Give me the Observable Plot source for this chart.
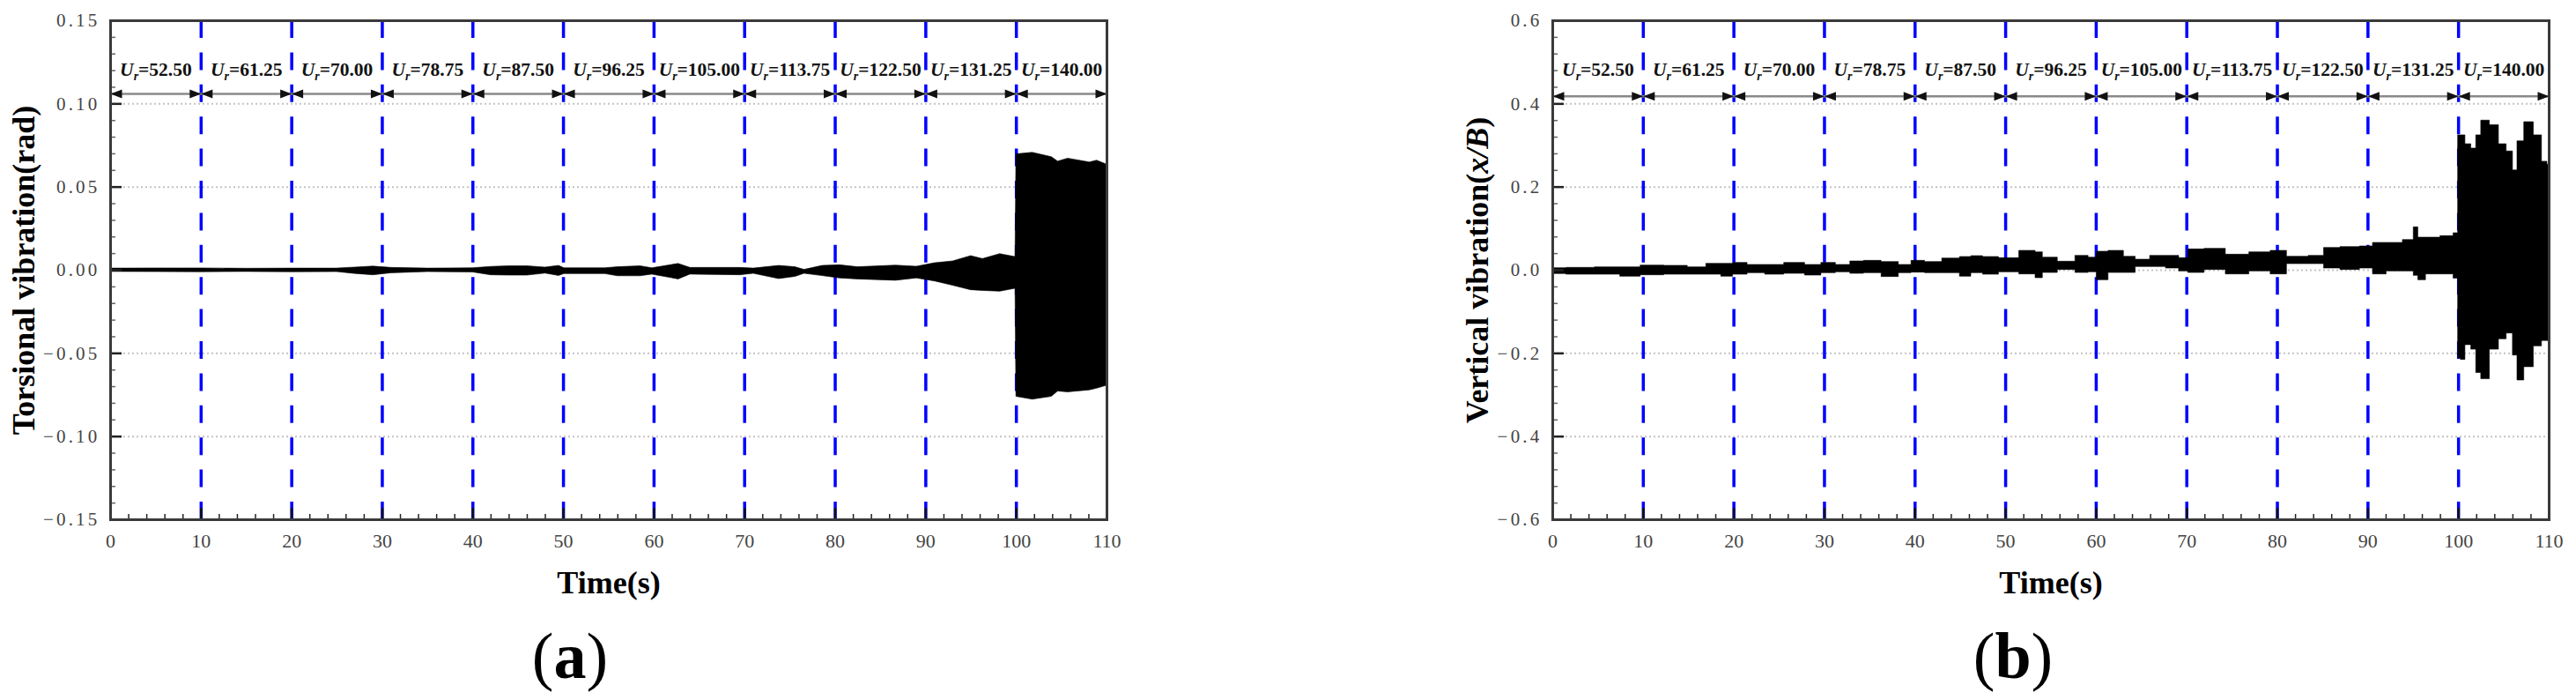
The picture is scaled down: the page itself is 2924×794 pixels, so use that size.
<!DOCTYPE html>
<html>
<head>
<meta charset="utf-8">
<script src="https://cdn.jsdelivr.net/npm/d3@7"></script>
<script src="https://cdn.jsdelivr.net/npm/@observablehq/plot@0.6"></script>
<style>
  html, body { margin: 0; padding: 0; background: #fff; }
  #page { position: relative; width: 2924px; height: 794px; overflow: hidden; }
  .panel { position: absolute; top: 0; }
  .tag { position: absolute; top: 696px; width: 200px; text-align: center; font: 74px/96px "Liberation Serif", serif; color: #000; }
  .tag b { font-weight: 700; }
</style>
</head>
<body>
<div id="page">
  <div class="tag" style="left:547px">(<b>a</b>)</div>
  <div class="tag" style="left:2185px">(<b>b</b>)</div>
</div>
<script>
const speedLabels = ["52.50","61.25","70.00","78.75","87.50","96.25","105.00","113.75","122.50","131.25","140.00"];
const labelTimes = [5,15,25,35,45,55,65,75,85,95,105];
const dividers = [10,20,30,40,50,60,70,80,90,100];
const xMajor = [0,10,20,30,40,50,60,70,80,90,100,110];

const timeA = [0,5,10,15,20,25,27,29,31,35,40,42,44,46,48,49.5,50.1,54.6,56,58.5,59.8,62.7,64,69.5,71,73.8,75.6,76.6,78.6,80.5,82.5,86.7,89,91,93,95,96.3,98.2,99.9,100,101.8,103.9,104.6,105.7,108.1,108.9,110];
const upperA = [.0010,.0011,.0011,.0009,.0010,.0010,.0016,.0022,.0014,.0010,.0012,.0020,.0024,.0024,.0016,.0026,.0012,.0012,.0018,.0024,.0012,.0038,.0014,.0014,.0010,.0026,.0018,.0002,.0026,.0030,.0018,.0028,.0021,.0042,.0053,.0085,.0067,.0097,.0079,.0697,.0706,.0680,.0653,.0671,.0648,.0659,.0635];
const lowerA = [-.0010,-.0011,-.0012,-.0010,-.0012,-.0011,-.0022,-.0030,-.0018,-.0011,-.0013,-.0030,-.0032,-.0032,-.0020,-.0034,-.0023,-.0023,-.0036,-.0036,-.0026,-.0055,-.0026,-.0030,-.0021,-.0053,-.0040,-.0021,-.0035,-.0049,-.0055,-.0063,-.0049,-.0067,-.0093,-.0120,-.0124,-.0129,-.0111,-.0761,-.0778,-.0761,-.0729,-.0734,-.0722,-.0712,-.0694];

const timeB = [0,3,6.3,8.6,10.8,13.8,16,17.9,19.3,20.5,22.5,24.4,26.7,29,30.3,32.2,33.5,35.2,37.4,39,40.2,42,44,45.9,46.5,48.5,50,53,53.6,54.6,56.9,58.5,59.8,60.3,62.4,63.7,65,66.9,68.5,69.8,70.5,73.4,75.2,78.6,79.9,82.2,84.7,85.6,88.3,89.9,91.2,92.9,94.8,95.3,95.8,97,99,99.9,100,100.5,101,101.8,102.1,102.9,104,104.9,105.7,106.3,106.7,107.8,108.8,109.6,110];
const upperB = [.005,.0057,.007,.007,.0113,.0106,.007,.0155,.0155,.0177,.0127,.0127,.0177,.0127,.0177,.0127,.0212,.0226,.0198,.0127,.0226,.0198,.0282,.0318,.0339,.0318,.029,.0466,.0431,.0304,.0205,.0346,.0304,.0445,.0466,.0325,.0254,.0346,.0346,.029,.0501,.0516,.0374,.0431,.0466,.0325,.0346,.0537,.0558,.0572,.0657,.0657,.0727,.1031,.0784,.0784,.0819,.089,.3245,.3245,.303,.2927,.3245,.3598,.349,.303,.2856,.24,.31,.356,.3245,.261,.254];
const lowerB = [-.009,-.0106,-.0106,-.0155,-.012,-.0106,-.0106,-.0106,-.0155,-.0106,-.007,-.0106,-.0085,-.0127,-.007,-.005,-.0085,-.007,-.0162,-.007,-.0057,-.007,-.007,-.0155,-.007,-.0106,-.005,-.0099,-.019,-.0064,.0007,-.0064,-.0049,-.024,-.0064,-.0064,.0078,.0078,.0042,-.0028,-.0064,.0007,-.0099,-.0028,-.0099,.0148,.0148,.0042,.0007,.0042,-.0099,-.0028,-.0028,-.0134,-.024,-.0099,-.0099,-.02,-.212,-.2155,-.18,-.191,-.247,-.262,-.191,-.166,-.152,-.205,-.265,-.233,-.183,-.17,-.17];

const yMajorA = [-.15,-.10,-.05,0,.05,.10,.15];
const yGridA = [-.10,-.05,0,.05,.10];
const yMajorB = [-.6,-.4,-.2,0,.2,.4,.6];
const yGridB = [-.4,-.2,0,.2,.4];

const SERIF = '"Liberation Serif", serif';
const triRight = { draw(c) { c.moveTo(0, 0); c.lineTo(-13, -5); c.lineTo(-13, 5); c.closePath(); } };
const triLeft  = { draw(c) { c.moveTo(0, 0); c.lineTo(13, -5); c.lineTo(13, 5); c.closePath(); } };

function panel({left, width, marginLeft, marginRight, domain, major, grid, minorStep, tickDigits,
                times, upper, lower, curve, arrowY, labelY, yLabel, yLabelDx}) {
  const minor = d3.range(Math.round(domain[0] / minorStep), Math.round(domain[1] / minorStep) + 1).map(d => d * minorStep);
  const xMinor = d3.range(0, 111, 2);
  const rows = times.map((t, i) => ({t, hi: upper[i], lo: lower[i]}));
  const fmt = d => d3.format(`.${tickDigits}f`)(d).replace("-", "\u2212");
  const chart = Plot.plot({
    width, height: 700, marginLeft, marginRight, marginTop: 23, marginBottom: 111,
    style: {background: "#fff", fontFamily: SERIF, overflow: "visible"},
    x: {domain: [0, 110]},
    y: {domain},
    marks: [
      Plot.ruleY(grid, {stroke: "#c4c4c4", strokeWidth: 2, strokeDasharray: "2 3"}),
      Plot.ruleX(dividers, {stroke: "#0000ff", strokeWidth: 3.5, strokeDasharray: "20 16.4"}),
      Plot.ruleY([arrowY], {stroke: "#8a8a8a", strokeWidth: 2.5}),
      Plot.dot(dividers.concat([110]), {x: d => d, y: () => arrowY, symbol: triRight, r: 4, fill: "#111", stroke: "none"}),
      Plot.dot([0].concat(dividers), {x: d => d, y: () => arrowY, symbol: triLeft, r: 4, fill: "#111", stroke: "none"}),
      Plot.areaY(rows, {x: "t", y1: "lo", y2: "hi", curve, fill: "#000", stroke: "#000", strokeWidth: 0.6}),
      Plot.text(speedLabels, {x: (d, i) => labelTimes[i], y: () => labelY, text: d => "Ur=" + d,
        fontSize: 21.5, fontWeight: 700, fill: "#111", textAnchor: "middle"}),
      Plot.axisX(xMinor, {anchor: "bottom", tickSize: -6, text: null, label: null, stroke: "#222", strokeWidth: 1.5}),
      Plot.axisX(xMajor, {anchor: "bottom", tickSize: -13, text: null, label: null, stroke: "#111", strokeWidth: 2.5}),
      Plot.axisX(xMajor, {anchor: "bottom", tickSize: 0, tickPadding: 16, label: null, fontSize: 22, fill: "#444", tickFormat: d => d}),
      Plot.axisY(minor, {anchor: "left", tickSize: -6, text: null, label: null, stroke: "#666", strokeWidth: 1.5}),
      Plot.axisY(major, {anchor: "left", tickSize: -13, text: null, label: null, stroke: "#222", strokeWidth: 2.5}),
      Plot.axisY(major, {anchor: "left", tickSize: 0, tickPadding: 12, label: null, fontSize: 21, fill: "#444", tickFormat: fmt}),
      Plot.frame({stroke: "#3a3a3a", strokeWidth: 3}),
      Plot.text(["Time(s)"], {frameAnchor: "bottom", dy: 83, fontSize: 36, fontWeight: 700, fill: "#000", textAnchor: "middle"}),
      Plot.text([yLabel], {frameAnchor: "left", dx: yLabelDx, rotate: -90, fontSize: 36, fontWeight: 700, fill: "#000", textAnchor: "middle"})
    ]
  });
  const svg = d3.select(chart);
  svg.selectAll("text").each(function () {
    const el = d3.select(this), s = this.textContent;
    if (/^\u2212?\d\.\d+$/.test(s)) {
      el.attr("letter-spacing", "3.2").style("letter-spacing", "3.2px");
    } else if (/^Ur=/.test(s)) {
      el.text(null);
      el.append("tspan").attr("font-style", "italic").text("U");
      el.append("tspan").attr("font-style", "italic").attr("font-size", "14").attr("dy", 5).text("r");
      el.append("tspan").attr("dy", -5).text(s.slice(2));
    } else if (s.includes("(x/B)")) {
      el.text(null);
      el.append("tspan").text(s.slice(0, s.indexOf("(x/B)") + 1));
      el.append("tspan").attr("font-style", "italic").text("x/B");
      el.append("tspan").text(")");
    }
  });
  const box = document.createElement("div");
  box.className = "panel";
  box.style.left = left + "px";
  box.style.width = width + "px";
  box.appendChild(chart);
  document.getElementById("page").appendChild(box);
}

panel({left: 0, width: 1300, marginLeft: 125, marginRight: 44, domain: [-.15, .15], major: yMajorA, grid: yGridA,
       minorStep: .01, tickDigits: 2, times: timeA, upper: upperA, lower: lowerA, curve: "linear", arrowY: .106, labelY: .1206,
       yLabel: "Torsional vibration(rad)", yLabelDx: 27 - 125});
panel({left: 1640, width: 1284, marginLeft: 122, marginRight: 31, domain: [-.6, .6], major: yMajorB, grid: yGridB,
       minorStep: .04, tickDigits: 1, times: timeB, upper: upperB, lower: lowerB, curve: "step", arrowY: .418, labelY: .482,
       yLabel: "Vertical vibration(x/B)", yLabelDx: 1677 - 1762});
</script>
</body>
</html>
